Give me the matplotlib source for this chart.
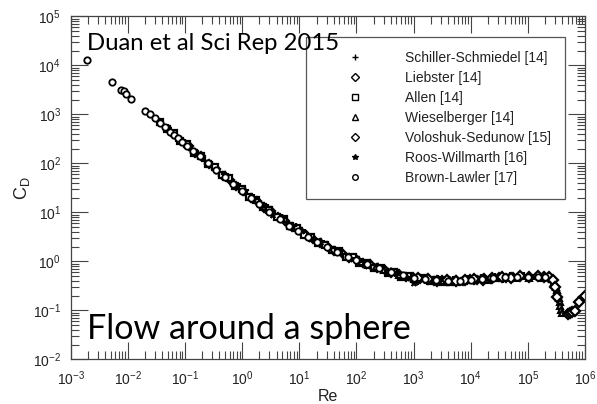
import numpy as np
import matplotlib
matplotlib.use("Agg")
import matplotlib.pyplot as plt
from matplotlib.ticker import LogLocator, NullFormatter

plt.rcParams['font.family'] = ['Liberation Sans', 'DejaVu Sans']
plt.rcParams['mathtext.fontset'] = 'custom'
plt.rcParams['mathtext.rm'] = 'Liberation Sans'
plt.rcParams['mathtext.it'] = 'Liberation Sans:italic'

# Drag coefficient of a sphere
schiller_re = [0.05, 0.07, 0.1, 0.13, 0.17, 0.22, 0.3, 0.4, 0.52, 0.68, 0.9, 1.2, 1.6, 2.1,
               2.8, 3.7, 4.9, 6.5, 8.6, 11.5, 15, 20, 27, 36, 48, 64, 85, 115, 150, 200, 270,
               360, 480, 640, 850, 1150, 1500, 2000, 2700, 3600, 4800, 6400, 8500, 1.15e4,
               1.5e4, 2e4, 2.7e4, 3.6e4, 4.8e4, 6.4e4, 8.5e4, 1.15e5, 1.5e5, 2e5]
schiller_cd = [520, 336, 262, 183, 155, 112, 91, 63, 54, 38.5, 32.5, 22.3, 19.2, 13.9,
               12.0, 8.6, 7.6, 5.6, 5.0, 3.6, 3.2, 2.5, 2.26, 1.73, 1.59, 1.27, 1.2, 0.94,
               0.92, 0.75, 0.73, 0.60, 0.58, 0.49, 0.50, 0.43, 0.45, 0.40, 0.43, 0.38, 0.415,
               0.385, 0.43, 0.40, 0.45, 0.42, 0.48, 0.44, 0.49, 0.455, 0.50, 0.455, 0.50, 0.45]

liebster_re = [0.085, 0.115, 0.15, 0.19, 0.26, 0.35, 0.46, 0.6, 0.78, 1.05, 1.4, 1.85, 2.4,
               3.2, 4.3, 5.7, 7.5, 10, 13, 17.5, 23, 31, 41, 55, 73, 97, 130, 170, 230, 310,
               410, 550, 730, 970, 1300, 1700, 2300, 3100, 4100, 5500, 7300, 9700, 1.3e4,
               1.7e4, 2.3e4, 3.1e4, 4.1e4, 5.5e4]
liebster_cd = [283, 225, 163, 139, 97, 77, 56, 46.4, 34.2, 27.8, 19.9, 16.7, 12.5, 10.6,
               7.9, 6.7, 5.1, 4.3, 3.4, 2.9, 2.31, 2.03, 1.63, 1.47, 1.19, 1.09, 0.91, 0.87,
               0.72, 0.68, 0.58, 0.55, 0.48, 0.475, 0.427, 0.44, 0.40, 0.42, 0.39, 0.41, 0.39,
               0.43, 0.414, 0.45, 0.434, 0.474, 0.454, 0.487]

allen_re = [0.036, 0.048, 0.063, 0.083, 0.11, 0.145, 0.19, 0.25, 0.33, 0.44, 0.58, 0.76, 1.0,
            1.3, 1.75, 2.3, 3.0, 4.0, 5.3, 7.0, 9.2, 12, 16, 21, 28, 37, 49, 65, 86, 113,
            150, 200, 265, 350, 460, 610, 800, 1100, 1400, 1900, 2500, 3300, 4400, 5800, 7700]
allen_cd = [700, 510, 407, 291, 242, 163, 143, 97, 84, 56.4, 49.3, 34.1, 29.7, 20.7, 18.0,
            12.9, 11.4, 8.0, 7.3, 5.2, 4.8, 3.5, 3.2, 2.37, 2.2, 1.67, 1.61, 1.22, 1.2, 0.94,
            0.93, 0.73, 0.74, 0.59, 0.60, 0.48, 0.51, 0.43, 0.45, 0.395, 0.41, 0.376, 0.38,
            0.372, 0.39]

wiesel_re = [120, 160, 220, 300, 400, 550, 750, 1000, 1350, 1800, 2400, 3200, 4300, 5800,
             7800, 1.05e4, 1.4e4, 1.9e4, 2.5e4, 3.4e4, 4.5e4, 6e4, 8e4, 1.05e5, 1.4e5, 1.8e5,
             2.2e5, 2.6e5, 2.9e5, 3.0e5, 3.1e5, 3.25e5, 3.4e5, 3.5e5, 3.6e5, 3.7e5, 3.8e5,
             3.9e5]
wiesel_cd = [0.99, 0.83, 0.78, 0.65, 0.62, 0.52, 0.505, 0.446, 0.453, 0.41, 0.424, 0.393,
             0.412, 0.388, 0.42, 0.407, 0.44, 0.425, 0.464, 0.446, 0.482, 0.46, 0.492, 0.466,
             0.494, 0.466, 0.47, 0.43, 0.38, 0.35, 0.30, 0.26, 0.21, 0.18, 0.145, 0.12, 0.10,
             0.088]

volo_re = [1200, 1800, 2600, 3800, 5500, 8000, 1.15e4, 1.65e4, 2.4e4, 3.5e4, 5e4, 7.2e4,
           1.04e5, 1.5e5, 1.9e5, 2.3e5, 2.7e5, 3.0e5, 3.3e5, 5.0e5, 5.5e5, 6.0e5, 6.6e5,
           7.8e5, 1e6]
volo_cd = [0.45, 0.43, 0.40, 0.41, 0.39, 0.41, 0.43, 0.42, 0.45, 0.47, 0.46, 0.49, 0.47,
           0.49, 0.47, 0.48, 0.42, 0.30, 0.19, 0.085, 0.088, 0.092, 0.098, 0.15, 0.20]

roos_re = [0.5, 0.75, 1.1, 1.6, 2.4, 3.5, 5.2, 7.6, 11, 16, 24, 35, 52, 76, 110, 160, 240,
           350, 520, 760, 1000, 1100, 1600, 2400]
roos_cd = [57, 35, 26.9, 17.5, 13.5, 9.0, 7.35, 4.9, 4.1, 2.85, 2.42, 1.76, 1.54, 1.14,
           1.05, 0.82, 0.77, 0.60, 0.57, 0.465, 0.36, 0.37, 0.43, 0.39]

brown_re = [0.00195, 0.0052, 0.0076, 0.0084, 0.0094, 0.0115, 0.020, 0.024, 0.030, 0.037,
            0.045, 0.055, 0.064, 0.075, 0.09, 0.11, 0.14, 0.18, 0.25, 0.35, 0.5, 0.7, 1.0,
            1.4, 2.0, 3.0, 4.5, 6.5, 9.5, 14, 20, 30, 45, 70, 100, 150, 250, 400, 650, 1000,
            1600, 2500, 4000, 6500, 1e4, 1.6e4, 2.5e4, 4e4, 6.5e4, 1e5, 1.5e5, 2e5]
brown_cd = [12800, 4600, 3200, 3000, 2600, 2040, 1180, 1000, 830, 655, 540, 440, 378, 325,
            275, 225, 178, 140, 100, 73, 52, 38, 27, 20, 14.5, 10.2, 7.2, 5.3, 4.1, 3.1,
            2.5, 1.95, 1.55, 1.22, 1.05, 0.88, 0.72, 0.60, 0.52, 0.46, 0.43, 0.41, 0.40,
            0.40, 0.42, 0.43, 0.45, 0.47, 0.48, 0.48, 0.48, 0.47]

labels = ['Schiller-Schmiedel [14]', 'Liebster [14]', 'Allen [14]', 'Wieselberger [14]',
          'Voloshuk-Sedunow [15]', 'Roos-Willmarth [16]', 'Brown-Lawler [17]']

W, H = 597, 404
fig = plt.figure(figsize=(W / 100, H / 100), dpi=100)
x0, x1, y0, y1 = 70.8, 585, 16.3, 359.3
ax = fig.add_axes([x0 / W, 1 - y1 / H, (x1 - x0) / W, (y1 - y0) / H])

series = [
    (schiller_re, schiller_cd, '+', 'k'),
    (liebster_re, liebster_cd, 'D', 'white'),
    (allen_re, allen_cd, 's', 'white'),
    (wiesel_re, wiesel_cd, '^', 'white'),
    (volo_re, volo_cd, 'D', 'white'),
    (roos_re, roos_cd, '*', 'k'),
    (brown_re, brown_cd, 'o', 'white'),
]
sizes = [5.5, 4.2, 4.6, 5.0, 4.8, 5.6, 4.6]
widths = [1.6, 1.6, 1.6, 1.5, 1.6, 1.2, 1.3]
for (re, cd, mk, fc), lab, ms, mw in zip(series, labels, sizes, widths):
    ax.plot(re, cd, linestyle='none', marker=mk, ms=ms, mfc=fc, mec='k', mew=mw,
            label=lab)

ax.set_xscale('log')
ax.set_yscale('log')
ax.set_xlim(1e-3, 1e6)
ax.set_ylim(1e-2, 1e5)
for axis in (ax.xaxis, ax.yaxis):
    axis.set_major_locator(LogLocator(base=10, numticks=20))
    axis.set_minor_locator(LogLocator(base=10, subs=np.arange(2, 10), numticks=100))
    axis.set_minor_formatter(NullFormatter())
    axis.get_offset_text().set_visible(False)

ax.tick_params(which='both', direction='in', top=True, right=True, colors='#444',
               labelcolor='#222', labelsize=10, width=0.8)
ax.tick_params(which='major', length=12, pad=7)
ax.tick_params(which='minor', length=6)
for sp in ax.spines.values():
    sp.set_color('#444')
    sp.set_linewidth(0.9)

ax.set_xlabel('Re', fontsize=11.5, color='#222', labelpad=1)
ax.set_ylabel(r'C$_\mathregular{D}$', fontsize=13, color='#222', labelpad=1)

leg = ax.legend(loc='upper left', bbox_to_anchor=((306 - x0) / (x1 - x0), (y1 - 37) / (y1 - y0)),
                borderaxespad=0, fontsize=10, frameon=True, fancybox=False,
                handlelength=5.1, handletextpad=1.0, borderpad=1.0, labelspacing=0.43,
                numpoints=1)
for h in leg.legend_handles:
    h.set_markersize(4)
    h.set_markeredgewidth(1.0)
leg.get_frame().set_edgecolor('#555')
leg.get_frame().set_linewidth(0.9)
leg.get_frame().set_alpha(1)
for t in leg.get_texts():
    t.set_color('#222')

fig.text(87 / W, 1 - 49.5 / H, 'Duan et al Sci Rep 2015', fontsize=17.2, family='Lato',
         va='baseline', ha='left')
fig.text(87 / W, 1 - 339.3 / H, 'Flow around a sphere', fontsize=24.6, family='Lato',
         va='baseline', ha='left')

fig.savefig('out.png', dpi=100)
